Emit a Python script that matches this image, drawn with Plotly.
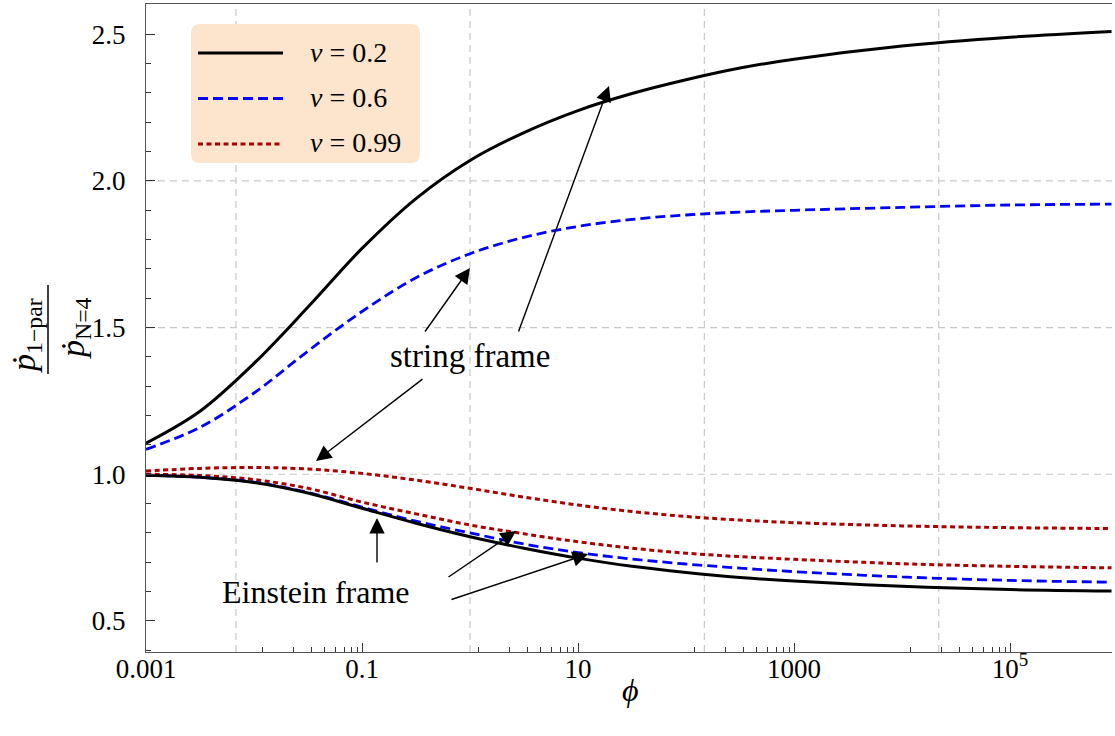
import plotly.graph_objects as go

# ---------------- data ----------------
log_phi = [-3, -2.5, -2, -1.5, -1, -0.5, 0, 0.5, 1, 1.5, 2, 2.5, 3, 4, 5, 5.94]
phi = [10 ** v for v in log_phi]

string_v02 = [1.106, 1.215, 1.378, 1.57, 1.77, 1.94, 2.07, 2.165, 2.24, 2.298, 2.345, 2.385, 2.415, 2.46, 2.49, 2.51]
string_v06 = [1.085, 1.16, 1.277, 1.42, 1.555, 1.67, 1.752, 1.808, 1.845, 1.869, 1.884, 1.894, 1.90, 1.91, 1.918, 1.921]
string_v099 = [1.011, 1.02, 1.023, 1.018, 1.003, 0.98, 0.952, 0.922, 0.895, 0.873, 0.856, 0.844, 0.835, 0.824, 0.818, 0.815]
einstein_v02 = [0.997, 0.99, 0.972, 0.936, 0.884, 0.833, 0.787, 0.748, 0.714, 0.686, 0.665, 0.648, 0.636, 0.618, 0.607, 0.602]
einstein_v06 = [0.997, 0.99, 0.973, 0.938, 0.888, 0.840, 0.80, 0.762, 0.733, 0.711, 0.694, 0.68, 0.668, 0.65, 0.638, 0.632]
einstein_v099 = [1.0, 0.996, 0.982, 0.952, 0.905, 0.865, 0.827, 0.797, 0.77, 0.748, 0.731, 0.719, 0.71, 0.695, 0.686, 0.681]

legend_labels = ["<i>v</i> = 0.2", "<i>v</i> = 0.6", "<i>v</i> = 0.99"]
x_tickvals = [0.001, 0.1, 10, 1000, 1e5]
x_ticktext = ["0.001", "0.1", "10", "1000", "10<sup>5</sup>"]
x_minor_mult = [0.12, 0.23, 0.34, 0.45, 0.57, 0.69, 0.80, 0.91]
x_grid_log = [-2.167, 0.0, 2.17, 4.34]
y_grid = [1.0, 1.5, 2.0]
y_tickvals = [0.5, 1.0, 1.5, 2.0, 2.5]

# ---------------- layout geometry ----------------
W_FIG, H_FIG = 1115, 736
ML, MR, MT, MB = 146, 3, 4, 84
PW, PH = W_FIG - ML - MR, H_FIG - MT - MB
XR = [-3, -3 + PW / 108.0]
YR = [0.394, 0.394 + PH / 293.3]

FONT = "Liberation Serif, Times New Roman, serif"
BLACK, BLUE, RED = "#000000", "#0000ff", "#aa0000"
DASH_BLUE, DOT_RED = "10px,5px", "5px,3.5px"


def px_lx(px):  # pixel x -> log10 x
    return XR[0] + (px - ML) / PW * (XR[1] - XR[0])


def py_y(py):  # pixel y -> data y
    return YR[1] - (py - MT) / PH * (YR[1] - YR[0])


def pxp(px):  # pixel x -> paper
    return (px - ML) / PW


def pyp(py):  # pixel y -> paper
    return (H_FIG - MB - py) / PH


fig = go.Figure()

# grid lines (dashed)
for g in x_grid_log:
    fig.add_trace(go.Scatter(x=[10 ** g, 10 ** g], y=[YR[0], YR[1]], mode="lines",
                             line=dict(color="#c8c8c8", width=1.2, dash="7px,5px"),
                             showlegend=False, hoverinfo="skip"))
for g in y_grid:
    fig.add_trace(go.Scatter(x=[10 ** XR[0], 10 ** XR[1]], y=[g, g], mode="lines",
                             line=dict(color="#c8c8c8", width=1.2, dash="7px,5px"),
                             showlegend=False, hoverinfo="skip"))

series = [
    (string_v099, RED, DOT_RED, 3),
    (einstein_v099, RED, DOT_RED, 3),
    (string_v06, BLUE, DASH_BLUE, 2.8),
    (einstein_v06, BLUE, DASH_BLUE, 2.8),
    (string_v02, BLACK, "solid", 3),
    (einstein_v02, BLACK, "solid", 3),
]
for ys, col, dash, w in series:
    fig.add_trace(go.Scatter(x=phi, y=ys, mode="lines",
                             line=dict(color=col, width=w, dash=dash, shape="spline", smoothing=1.0),
                             showlegend=False))

shapes = []
annotations = []


def text_ann(px, py, text, size, **kw):
    d = dict(x=pxp(px), y=pyp(py), xref="paper", yref="paper", text=text,
             showarrow=False, xanchor="center", yanchor="middle",
             font=dict(family=FONT, size=size, color="black"))
    d.update(kw)
    return d


# manual legend
lx0, lx1, ly0, ly1, rad = 191, 420, 24, 163, 9
path = (f"M {pxp(lx0 + rad)},{pyp(ly0)} L {pxp(lx1 - rad)},{pyp(ly0)} "
        f"Q {pxp(lx1)},{pyp(ly0)} {pxp(lx1)},{pyp(ly0 + rad)} "
        f"L {pxp(lx1)},{pyp(ly1 - rad)} Q {pxp(lx1)},{pyp(ly1)} {pxp(lx1 - rad)},{pyp(ly1)} "
        f"L {pxp(lx0 + rad)},{pyp(ly1)} Q {pxp(lx0)},{pyp(ly1)} {pxp(lx0)},{pyp(ly1 - rad)} "
        f"L {pxp(lx0)},{pyp(ly0 + rad)} Q {pxp(lx0)},{pyp(ly0)} {pxp(lx0 + rad)},{pyp(ly0)} Z")
shapes.append(dict(type="path", xref="paper", yref="paper", path=path,
                   fillcolor="#fde4cd", line=dict(width=0), layer="above"))
leg_styles = [(BLACK, "solid", 3), (BLUE, DASH_BLUE, 2.8), (RED, DOT_RED, 3)]
for i, (lab, (col, dash, w)) in enumerate(zip(legend_labels, leg_styles)):
    yy = 53 + i * 45.5
    shapes.append(dict(type="line", xref="paper", yref="paper",
                       x0=pxp(198), x1=pxp(283), y0=pyp(yy), y1=pyp(yy),
                       line=dict(color=col, width=w, dash=dash), layer="above"))
    annotations.append(text_ann(308, yy - 1, lab, 28, xanchor="left"))

# text labels
annotations.append(text_ann(470, 356, "string frame", 33))
annotations.append(text_ann(315, 592, "Einstein frame", 32))

# arrows (head px, tail px)
arrows = [
    ((609, 86), (518, 333)),
    ((470, 268), (424, 333)),
    ((316, 461), (424, 378)),
    ((377, 518), (377, 564)),
    ((516, 531), (447, 578)),
    ((588, 554), (450, 600)),
]
for (hx, hy), (tx, ty) in arrows:
    annotations.append(dict(x=px_lx(hx), y=py_y(hy), xref="x", yref="y",
                            ax=tx - hx, ay=ty - hy, axref="pixel", ayref="pixel",
                            showarrow=True, arrowhead=2, arrowsize=2.2, arrowwidth=1.4,
                            arrowcolor="black", text=""))

# axis titles
annotations.append(text_ann(630, 690, "<i>ϕ</i>", 32))
annotations.append(text_ann(26, 336, "<i>ṗ</i><sub>1−par</sub>", 34, textangle=-90))
annotations.append(text_ann(75, 328, "<i>ṗ</i><sub>N=4</sub>", 34, textangle=-90))
shapes.append(dict(type="line", xref="paper", yref="paper", x0=pxp(48), x1=pxp(48),
                   y0=pyp(285), y1=pyp(374), line=dict(color="black", width=1.5)))

minor_vals = [m * t for t in x_tickvals[1:] for m in x_minor_mult]

fig.update_layout(
    width=W_FIG, height=H_FIG,
    margin=dict(l=ML, r=MR, t=MT, b=MB, pad=0),
    paper_bgcolor="white", plot_bgcolor="white",
    font=dict(family=FONT, size=23, color="black"),
    shapes=shapes, annotations=annotations, showlegend=False,
    xaxis=dict(type="log", range=XR, showgrid=False, zeroline=False,
               showline=True, linecolor="#555555", linewidth=1.3, mirror=True,
               tickmode="array", tickvals=x_tickvals, ticktext=x_ticktext,
               ticks="inside", ticklen=9, tickwidth=1.2, tickcolor="#333333",
               ticklabelstandoff=-8,
               tickfont=dict(family=FONT, size=27, color="black"),
               minor=dict(tickmode="array", tickvals=minor_vals, ticks="inside",
                          ticklen=5, tickwidth=1, tickcolor="#333333", showgrid=False)),
    yaxis=dict(range=YR, showgrid=False, zeroline=False,
               showline=True, linecolor="#555555", linewidth=1.3, mirror=False,
               tickmode="array", tickvals=y_tickvals, ticktext=["0.5", "1.0", "1.5", "2.0", "2.5"],
               ticks="inside", ticklen=9, tickwidth=1.2, tickcolor="#333333",
               ticklabelstandoff=14,
               tickfont=dict(family=FONT, size=27, color="black"),
               minor=dict(dtick=0.1, tick0=0.5, ticks="inside", ticklen=5,
                          tickwidth=1, tickcolor="#333333", showgrid=False)),
)

fig.write_html("out.html")
